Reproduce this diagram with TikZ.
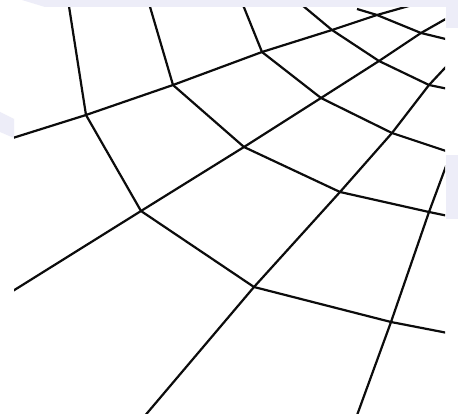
\documentclass[tikz,border=0pt]{standalone}
\definecolor{lav}{RGB}{237,237,248}
\definecolor{ink}{RGB}{12,12,12}
\begin{document}
\begin{tikzpicture}[x=1pt,y=-1pt,
  meshline/.style={line width=2.2pt,ink,line join=miter}]
\useasboundingbox (0,0) rectangle (458,414);
\fill[white] (0,0) rectangle (458,414);
% faint background patches
\fill[lav] (22,0) -- (458,0) -- (458,28) -- (446,28) -- (446,7) -- (45,7) -- cycle;
\fill[lav] (0,112) -- (14,119) -- (14,138) -- (0,132) -- cycle;
\fill[lav] (446,155) rectangle (458,219);
% intersections
\coordinate (aH1) at (86,115);  \coordinate (aH2) at (141,211);
\coordinate (aH3) at (254,287); \coordinate (aH4) at (391,322);
\coordinate (bH1) at (173,85);  \coordinate (bH2) at (244,147);
\coordinate (bH3) at (340,192); \coordinate (bH4) at (429,212);
\coordinate (cH1) at (262,52);  \coordinate (cH2) at (321,98);
\coordinate (cH3) at (392,133);
\coordinate (dH1) at (332,30);  \coordinate (dH2) at (379,61);
\coordinate (dH3) at (429,85);
\coordinate (eH1) at (377,15);  \coordinate (eH2) at (421,33);
% free ends
\coordinate (aS) at (68,0);   \coordinate (aE) at (458,335);
\coordinate (bS) at (148,0);  \coordinate (bE) at (458,218);
\coordinate (cS) at (241,0);  \coordinate (cE) at (458,155);
\coordinate (dS) at (296,0);  \coordinate (dE) at (458,91);
\coordinate (eS) at (357,9);  \coordinate (eE) at (458,42);
\coordinate (h1S) at (0,142); \coordinate (h1E) at (430,0);
\coordinate (h2S) at (0,299); \coordinate (h2E) at (458,12);
\coordinate (h3S) at (143,418); \coordinate (h3E) at (458,54);
\coordinate (h4S) at (356,418); \coordinate (h4E) at (452,150);
\begin{scope}
\clip (14,7.5) rectangle (445,414);
\draw[meshline] (aS) -- (aH1) -- (aH2) -- (aH3) -- (aH4) -- (aE);
\draw[meshline] (bS) -- (bH1) -- (bH2) -- (bH3) -- (bH4) -- (bE);
\draw[meshline] (cS) -- (cH1) -- (cH2) -- (cH3) -- (cE);
\draw[meshline] (dS) -- (dH1) -- (dH2) -- (dH3) -- (dE);
\draw[meshline] (eS) -- (eH1) -- (eH2) -- (eE);
\draw[meshline] (h1S) -- (aH1) -- (bH1) -- (cH1) -- (dH1) -- (eH1) -- (h1E);
\draw[meshline] (h2S) -- (aH2) -- (bH2) -- (cH2) -- (dH2) -- (eH2) -- (h2E);
\draw[meshline] (h3S) -- (aH3) -- (bH3) -- (cH3) -- (dH3) -- (h3E);
\draw[meshline] (h4S) -- (aH4) -- (bH4) -- (h4E);
\end{scope}
\end{tikzpicture}
\end{document}
